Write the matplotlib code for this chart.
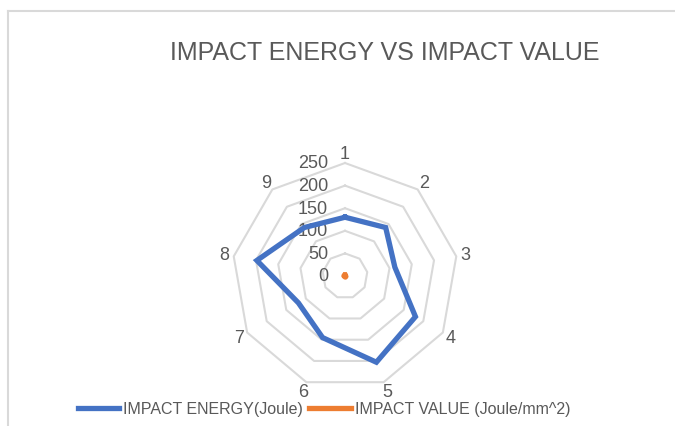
import numpy as np
import matplotlib.pyplot as plt
import matplotlib.transforms as mtransforms
from matplotlib.lines import Line2D

# data
categories = ['1', '2', '3', '4', '5', '6', '7', '8', '9']
impact_energy = [130, 140, 112, 180, 203, 145, 119, 198, 140]
impact_value = [1.6, 1.7, 1.4, 2.2, 2.5, 1.8, 1.5, 2.4, 1.7]
ring_levels = [0, 50, 100, 150, 200, 250]

text_col = '#595959'
grid_col = '#d9d9d9'
blue = '#4472C4'
orange = '#ED7D31'

plt.rcParams['font.family'] = ['Liberation Sans', 'DejaVu Sans']

fig = plt.figure(figsize=(6.75, 4.27), dpi=100)

# outer chart frame (top and left edge visible)
fig.add_artist(Line2D([8/675, 1], [1-12/427, 1-12/427], color=grid_col, lw=1.5))
fig.add_artist(Line2D([8/675, 8/675], [0, 1-12/427], color=grid_col, lw=1.5))

fig.text(385/675, 1-53/427, 'IMPACT ENERGY VS IMPACT VALUE', ha='center', va='center',
         fontsize=18, color=text_col)

ax = fig.add_axes([(345-113)/675, (150-113)/427, 226/675, 226/427], projection='polar')
ax.set_theta_zero_location('N')
ax.set_theta_direction(-1)
ax.set_ylim(0, 250)
ax.grid(False)
ax.spines['polar'].set_visible(False)
ax.set_xticks([])
ax.set_yticks([])
ax.patch.set_alpha(0)

n = len(categories)
theta = np.linspace(0, 2*np.pi, n, endpoint=False)
theta_c = np.append(theta, theta[0])

for lv in ring_levels[1:]:
    ax.plot(theta_c, [lv]*(n+1), color=grid_col, lw=1.5, zorder=1, clip_on=False)

# value labels sit left of the top spoke, right-aligned
lab_tr = mtransforms.offset_copy(ax.transData, fig=fig, x=-17, y=0, units='dots')
for lv in ring_levels:
    ax.text(0, lv, str(lv), ha='right', va='center', fontsize=13, color=text_col,
            zorder=2, transform=lab_tr)

for t, c in zip(theta, categories):
    ax.text(t, 271, c, ha='center', va='center', fontsize=13, color=text_col)

ax.plot(theta_c, impact_energy + impact_energy[:1], color=blue, lw=3.8, zorder=3,
        solid_joinstyle='miter', clip_on=False, label='IMPACT ENERGY(Joule)')
ax.plot(theta_c, impact_value + impact_value[:1], color=orange, lw=3.8, zorder=4,
        clip_on=False, label='IMPACT VALUE (Joule/mm^2)')

handles, labels = ax.get_legend_handles_labels()
leg = fig.legend(handles, labels, loc='center', bbox_to_anchor=(324/675, 1-410/427), ncol=2,
                 frameon=False, fontsize=11.5, handlelength=2.6, handletextpad=0.25,
                 columnspacing=0.4, labelcolor=text_col)

fig.savefig('out.png', dpi=100)
